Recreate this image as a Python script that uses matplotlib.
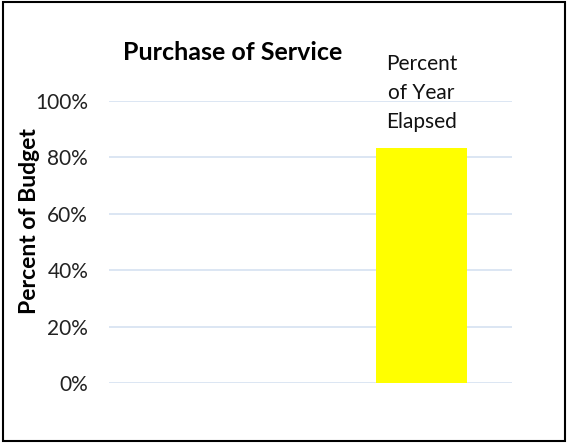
import matplotlib.pyplot as plt
from matplotlib.patches import Rectangle

categories = ["Purchase of Service", "Percent of Year Elapsed"]
values = [0.0, 0.833]
bar_colors = ["#4472C4", "#FFFF00"]
yticks = [0, 0.2, 0.4, 0.6, 0.8, 1.0]
ytick_labels = ["0%", "20%", "40%", "60%", "80%", "100%"]

plt.rcParams['font.family'] = ['Lato', 'DejaVu Sans']

fig = plt.figure(figsize=(5.68, 4.43), dpi=100)
ax = fig.add_axes([109/568, 60/443, 403/568, 282/443])

ax.bar(range(len(values)), values, width=0.45, color=bar_colors, zorder=3)

ax.set_xlim(-0.55, 1.45)
ax.set_ylim(0, 1)
ax.set_yticks(yticks)
ax.set_yticklabels(ytick_labels, fontsize=15, color="#222222")
ax.set_xticks([])
ax.tick_params(axis="y", length=0, pad=15)
ax.grid(axis="y", color="#D6E1F1", linewidth=1.2, zorder=0)
for s in ax.spines.values():
    s.set_visible(False)

ax.set_ylabel("Percent of Budget", fontsize=16.5, fontweight="bold")
ax.yaxis.set_label_coords(-0.172, 0.576)

# label over the year-elapsed bar
ax.text(1, 1.165, "Percent\nof Year\nElapsed", ha="center", va="top",
        fontsize=15, linespacing=1.55, color="#111111")

fig.text(233/568, 1 - 53/443, "Purchase of Service", ha="center", va="center",
         fontsize=18, fontweight="bold")

fig.patches.append(Rectangle((3/568, 2/443), 562/568, 439/443, transform=fig.transFigure,
                             fill=False, edgecolor="black", linewidth=1.5))

fig.savefig("out.png", dpi=100)
